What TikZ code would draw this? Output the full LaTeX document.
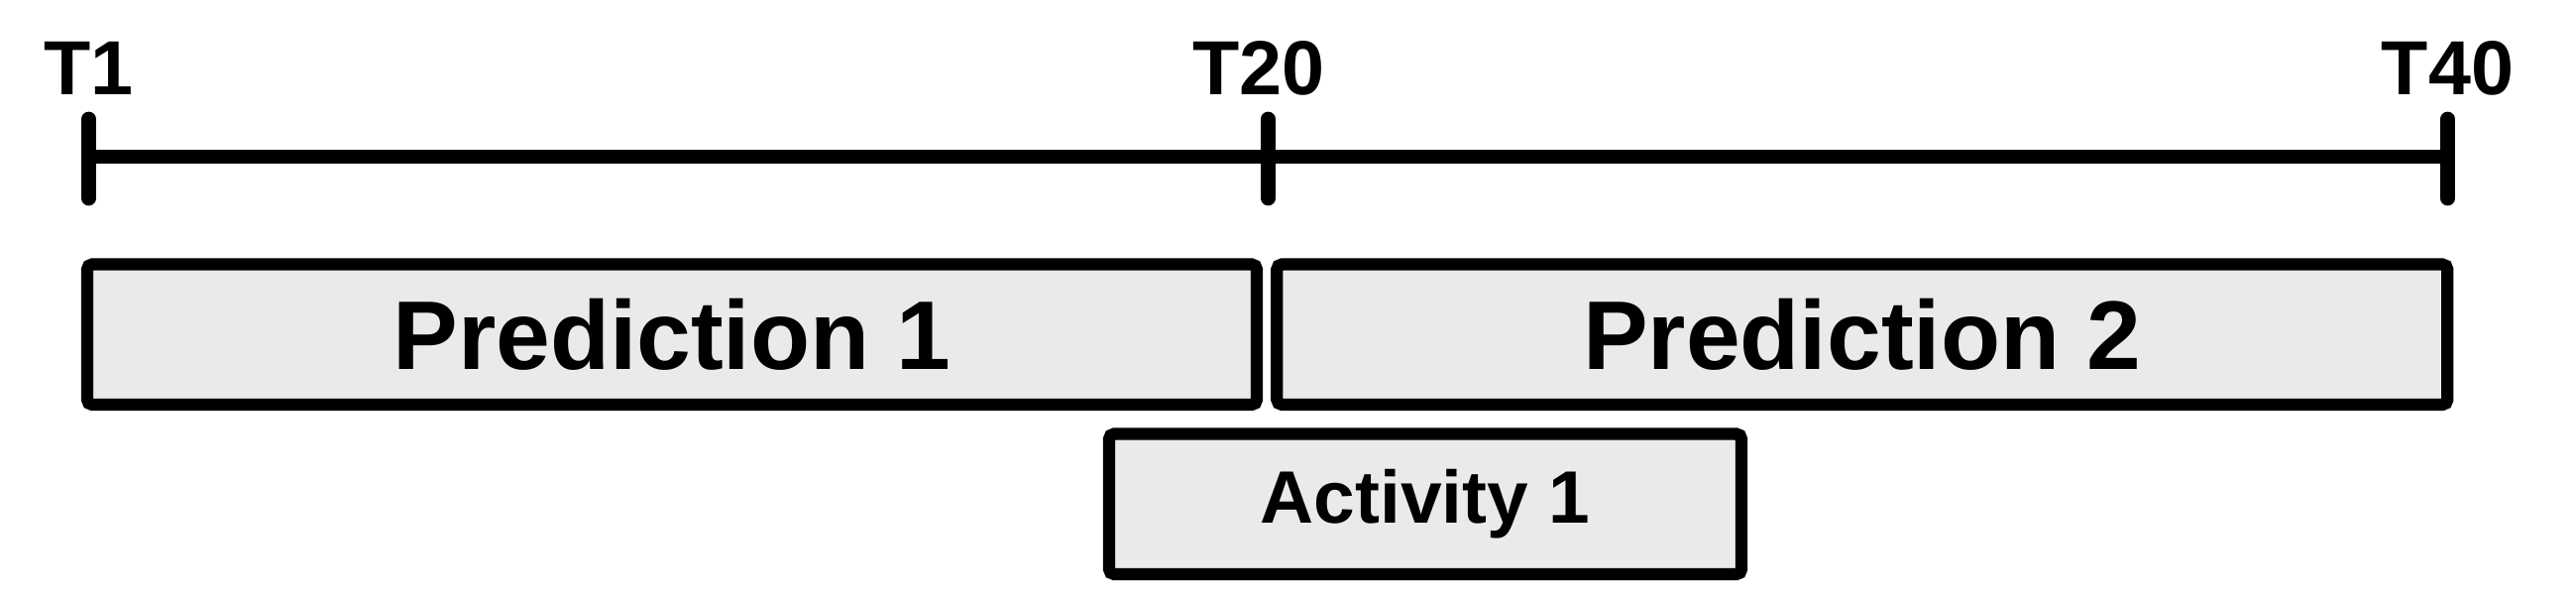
\documentclass[tikz,border=0pt]{standalone}
\usepackage{fontspec}
\setmainfont{Liberation Sans}
\usetikzlibrary{positioning}

\definecolor{boxfill}{HTML}{EAEAEA}

\tikzset{
  axisline/.style={line width=3.8pt, line cap=round},
  ticklabel/.style={anchor=base, inner sep=0pt, font=\bfseries\fontsize{22}{26}\selectfont},
  predbox/.style={draw, line width=3.5pt, fill=boxfill, rounded corners=1.5pt,
    minimum height=1.415cm, inner sep=0pt, font=\bfseries\fontsize{28}{32}\selectfont},
  actbox/.style={predbox, font=\bfseries\fontsize{21.3}{25}\selectfont}
}

\begin{document}
\begin{tikzpicture}

\useasboundingbox (0,0) rectangle (25.99,-6.06);

% Time points
\coordinate (T1) at (0.895,-1.58);
\coordinate (T20) at (12.795,-1.58);
\coordinate (T40) at (24.695,-1.58);

% Time axis
\draw[axisline] (T1) -- (T40);

% Ticks and labels
\foreach \t in {T1,T20,T40}
  \draw[axisline, line width=4.2pt] (\t) ++(0,0.38) -- ++(0,-0.8);
\node[ticklabel] (lab1) at ([yshift=0.625cm]T1) {T1};
\node[ticklabel] (lab20) at ([xshift=-0.095cm,yshift=0.625cm]T20) {T20};
\node[ticklabel] (lab40) at ([yshift=0.625cm]T40) {T40};

% Prediction windows
\node[predbox, minimum width=11.80cm] (pred1) at (6.78,-3.3725) {Prediction 1};
\node[predbox, minimum width=11.81cm, right=0.08cm of pred1] (pred2) {Prediction 2};

% Activity window
\node[actbox, minimum width=6.38cm] (act1) at (14.38,-5.0825) {Activity 1};

\end{tikzpicture}
\end{document}
